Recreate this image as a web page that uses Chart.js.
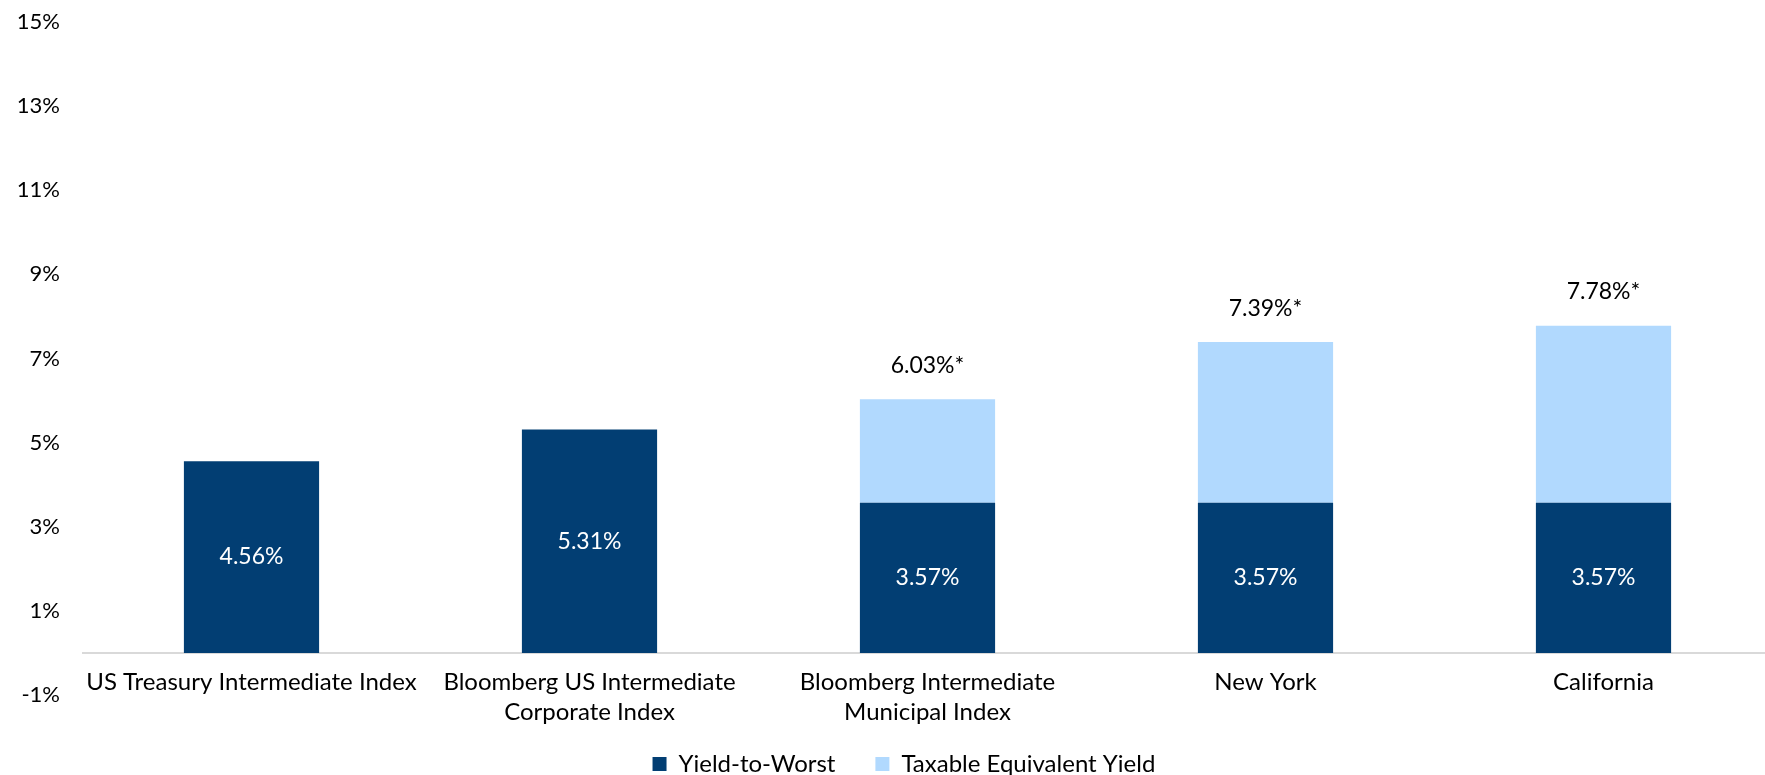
<!DOCTYPE html>
<html>
<head>
<meta charset="utf-8">
<script src="https://cdn.jsdelivr.net/npm/chart.js@4/dist/chart.umd.min.js"></script>
<style>
  html, body { margin: 0; padding: 0; background: #fff; overflow: hidden; }
  #wrap { width: 1808px; height: 786px; }
</style>
</head>
<body>
<div id="wrap"><canvas id="myChart" width="1808" height="786"></canvas></div>
<script>
const categories = [
  'US Treasury Intermediate Index',
  ['Bloomberg US Intermediate', 'Corporate Index'],
  ['Bloomberg Intermediate', 'Municipal Index'],
  'New York',
  'California'
];
const yieldToWorst = [4.56, 5.31, 3.57, 3.57, 3.57];
const taxableEquivalent = [null, null, 6.03, 7.39, 7.78];
const yTicks = { min: -1, max: 15, step: 2 };

const NAVY = '#023e73';
const LIGHT = '#b1d9fe';

// light segment sits on top of the dark one, so it only carries the difference
const taxableExtra = taxableEquivalent.map((v, i) => v == null ? null : +(v - yieldToWorst[i]).toFixed(2));

Chart.defaults.font.family = "Lato, 'Open Sans', sans-serif";
Chart.defaults.font.size = 22;
Chart.defaults.color = '#000';

// value labels: white inside the navy bars, total above the stack
const valueLabels = {
  id: 'valueLabels',
  afterDatasetsDraw(chart) {
    const ctx = chart.ctx;
    ctx.save();
    ctx.font = "23px Lato, sans-serif";
    ctx.textAlign = 'center';
    ctx.textBaseline = 'middle';
    chart.getDatasetMeta(0).data.forEach((bar, i) => {
      ctx.fillStyle = '#fff';
      ctx.fillText(yieldToWorst[i].toFixed(2) + '%', bar.x, (bar.y + bar.base) / 2);
    });
    chart.getDatasetMeta(1).data.forEach((bar, i) => {
      if (taxableEquivalent[i] == null) return;
      ctx.fillStyle = '#000';
      ctx.fillText(taxableEquivalent[i].toFixed(2) + '%*', bar.x, bar.y - 34);
    });
    ctx.restore();
  }
};

// nudge the legend row a bit to the right of the canvas centre
const legendShift = {
  id: 'legendShift',
  afterLayout(chart) {
    if (!chart.legend) return;
    chart.legend.left += 17.7;
    chart.legend.right += 17.7;
  }
};

const ctx = document.getElementById('myChart').getContext('2d');
new Chart(ctx, {
  type: 'bar',
  data: {
    labels: categories,
    datasets: [
      {
        label: 'Yield-to-Worst',
        data: yieldToWorst,
        backgroundColor: NAVY,
        categoryPercentage: 1,
        barPercentage: 0.4
      },
      {
        label: 'Taxable Equivalent Yield',
        data: taxableExtra,
        backgroundColor: LIGHT,
        categoryPercentage: 1,
        barPercentage: 0.4
      }
    ]
  },
  options: {
    responsive: false,
    animation: false,
    devicePixelRatio: 1,
    layout: { padding: { top: 22, right: 35.5, left: 0, bottom: 0 } },
    plugins: {
      legend: {
        position: 'bottom',
        // empty title only adds a gap between the axis labels and the legend row
        title: { display: true, text: '', font: { size: 10, lineHeight: 1.2 }, padding: { top: 5, bottom: 0 } },
        labels: {
          boxWidth: 14,
          boxHeight: 14,
          padding: 40,
          font: { size: 24 },
          color: '#000'
        }
      },
      tooltip: { enabled: false }
    },
    scales: {
      x: {
        stacked: true,
        position: { y: 0 },
        grid: { display: false, drawTicks: false },
        border: { display: true, color: '#d9d9d9', width: 2 },
        ticks: {
          padding: 15,
          maxRotation: 0,
          autoSkip: false,
          font: { size: 24, lineHeight: 1.22 }
        }
      },
      y: {
        stacked: true,
        min: yTicks.min,
        max: yTicks.max,
        // hidden tick marks give the gap between labels and plot
        grid: { display: false, drawTicks: true, tickLength: 22.5 },
        border: { display: false },
        ticks: {
          stepSize: yTicks.step,
          padding: 0,
          font: { size: 22 },
          callback: (v) => v + '%'
        },
        afterFit(scale) { scale.width = 82.5; }
      }
    }
  },
  plugins: [valueLabels, legendShift]
});
</script>
</body>
</html>
